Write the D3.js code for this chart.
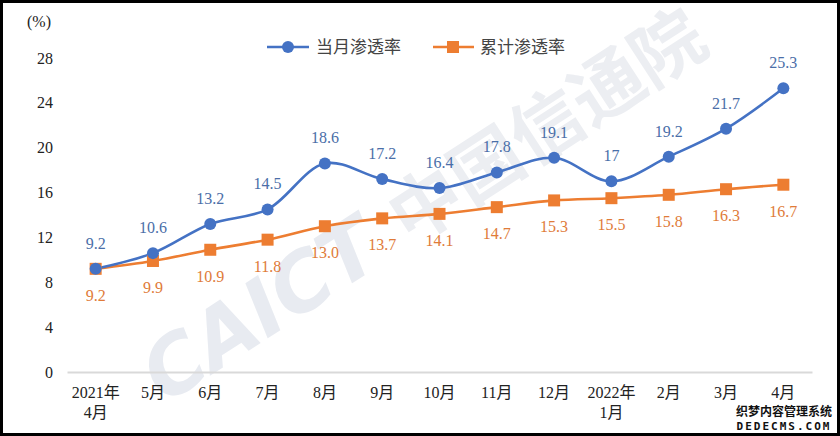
<!DOCTYPE html>
<html><head><meta charset="utf-8">
<script src="https://cdn.jsdelivr.net/npm/d3@7"></script>
<style>html,body{margin:0;padding:0;background:#fff;}svg{display:block;}</style>
</head><body>
<script>
const categories = ["2021年\n4月","5月","6月","7月","8月","9月","10月","11月","12月","2022年\n1月","2月","3月","4月"];
const monthlyValues = [9.2,10.6,13.2,14.5,18.6,17.2,16.4,17.8,19.1,17,19.2,21.7,25.3];
const monthlyLabels = ["9.2","10.6","13.2","14.5","18.6","17.2","16.4","17.8","19.1","17","19.2","21.7","25.3"];
const cumulativeValues = [9.2,9.9,10.9,11.8,13.0,13.7,14.1,14.7,15.3,15.5,15.8,16.3,16.7];
const cumulativeLabels = ["9.2","9.9","10.9","11.8","13.0","13.7","14.1","14.7","15.3","15.5","15.8","16.3","16.7"];
const yTicks = [0,4,8,12,16,20,24,28];
const seriesNames = ["当月渗透率","累计渗透率"];

const W = 840, H = 436;
const FONT = "'Liberation Serif','Times New Roman','Noto Sans CJK SC',serif";
const BLUE = "#4472C4", ORANGE = "#ED7D31";
const BLUE_TXT = "#4A6EA8", ORANGE_TXT = "#E07B39";

const svg = d3.select("body").append("svg").attr("width", W).attr("height", H);
svg.append("rect").attr("width", W).attr("height", H).attr("fill", "#fff");

const x = d3.scalePoint().domain(categories).range([67, 812]).padding(0.5);
const y = d3.scaleLinear().domain([0, 28]).range([372, 58]);

// watermark
const wm = svg.append("g").attr("transform", "translate(165,405) rotate(-33)");
wm.append("text").text("CAICT").attr("font-family", "'DejaVu Sans',sans-serif")
  .attr("font-weight", "bold").attr("font-style", "italic").attr("font-size", 80)
  .attr("fill", "#e8ebf1");
wm.append("text").text("中国信通院").attr("x", 292).attr("font-family", "'Noto Sans CJK SC',sans-serif")
  .attr("font-weight", "bold").attr("font-size", 72).attr("fill", "#eceef2");

// y axis labels
svg.append("g").selectAll("text").data(yTicks).join("text")
  .attr("x", 53).attr("y", d => y(d)).attr("dy", "0.35em").attr("text-anchor", "end")
  .attr("font-family", FONT).attr("font-size", 16).attr("fill", "#222").text(d => d);
svg.append("text").attr("x", 27).attr("y", 27).attr("font-family", FONT)
  .attr("font-size", 16).attr("fill", "#222").text("(%)");

// x axis
const xAxis = d3.axisBottom(x).tickSize(0).tickFormat("");
const gx = svg.append("g").attr("transform", `translate(0,${y(0)})`).call(xAxis);
gx.select(".domain").attr("stroke", "#d9d9d9").attr("stroke-width", 2);
categories.forEach(c => {
  const lines = c.split("\n");
  const t = svg.append("text").attr("x", x(c)).attr("y", 398).attr("text-anchor", "middle")
    .attr("font-family", FONT).attr("font-size", 16).attr("fill", "#222");
  lines.forEach((l, i) => t.append("tspan").attr("x", x(c)).attr("dy", i === 0 ? 0 : 20).text(l));
});

const curve = d3.curveCatmullRom.alpha(0.5);
const lineGen = vals => d3.line().x((d, i) => x(categories[i])).y(d => y(d)).curve(curve)(vals);

svg.append("path").attr("d", lineGen(cumulativeValues)).attr("fill", "none")
  .attr("stroke", ORANGE).attr("stroke-width", 2.6);
svg.append("path").attr("d", lineGen(monthlyValues)).attr("fill", "none")
  .attr("stroke", BLUE).attr("stroke-width", 2.6);

svg.append("g").selectAll("rect").data(cumulativeValues).join("rect")
  .attr("x", (d, i) => x(categories[i]) - 6).attr("y", d => y(d) - 6)
  .attr("width", 12).attr("height", 12).attr("fill", ORANGE);
svg.append("g").selectAll("circle").data(monthlyValues).join("circle")
  .attr("cx", (d, i) => x(categories[i])).attr("cy", d => y(d)).attr("r", 6).attr("fill", BLUE);

// data labels
svg.append("g").selectAll("text").data(monthlyValues).join("text")
  .attr("x", (d, i) => x(categories[i])).attr("y", d => y(d) - 20).attr("text-anchor", "middle")
  .attr("font-family", FONT).attr("font-size", 16).attr("fill", BLUE_TXT)
  .text((d, i) => monthlyLabels[i]);
svg.append("g").selectAll("text").data(cumulativeValues).join("text")
  .attr("x", (d, i) => x(categories[i])).attr("y", d => y(d) + 32).attr("text-anchor", "middle")
  .attr("font-family", FONT).attr("font-size", 16).attr("fill", ORANGE_TXT)
  .text((d, i) => cumulativeLabels[i]);

// legend
const leg = svg.append("g");
leg.append("line").attr("x1", 267).attr("x2", 309).attr("y1", 47).attr("y2", 47).attr("stroke", BLUE).attr("stroke-width", 2.6);
leg.append("circle").attr("cx", 288).attr("cy", 47).attr("r", 6).attr("fill", BLUE);
leg.append("text").attr("x", 316).attr("y", 47).attr("dy", "0.35em").attr("font-family", FONT)
  .attr("font-size", 17).attr("fill", "#444").text(seriesNames[0]);
leg.append("line").attr("x1", 433).attr("x2", 474).attr("y1", 47).attr("y2", 47).attr("stroke", ORANGE).attr("stroke-width", 2.6);
leg.append("rect").attr("x", 447).attr("y", 41).attr("width", 12).attr("height", 12).attr("fill", ORANGE);
leg.append("text").attr("x", 480).attr("y", 47).attr("dy", "0.35em").attr("font-family", FONT)
  .attr("font-size", 17).attr("fill", "#444").text(seriesNames[1]);

// corner watermark
const cw = svg.append("g").attr("font-family", "'Noto Sans CJK SC',sans-serif").attr("font-weight", "bold")
  .attr("fill", "#111").attr("stroke", "#fff").attr("stroke-width", 2).attr("paint-order", "stroke");
cw.append("text").attr("x", 784).attr("y", 416).attr("text-anchor", "middle").attr("font-size", 12).text("织梦内容管理系统");
cw.append("text").attr("x", 784).attr("y", 430).attr("text-anchor", "middle").attr("font-size", 11)
  .attr("letter-spacing", 2).attr("font-family", "'DejaVu Sans Mono',monospace").text("DEDECMS.COM");

// frame
svg.append("rect").attr("x", 1.5).attr("y", 1.5).attr("width", W - 3).attr("height", H - 3)
  .attr("fill", "none").attr("stroke", "#000").attr("stroke-width", 3);
</script>
</body></html>
